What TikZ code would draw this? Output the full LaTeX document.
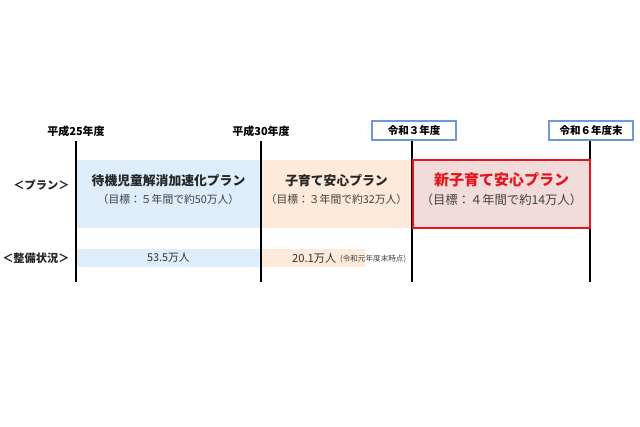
\documentclass[tikz,border=0pt]{standalone}
\usepackage{fontspec}
\setmainfont{Noto Sans CJK JP}
\begin{document}
\begin{tikzpicture}[x=1pt,y=-1pt,
  yearlbl/.style={font=\fontsize{11}{13}\selectfont\bfseries, text=black, inner sep=1pt},
  yearbox/.style={draw=boxblue, line width=1.1pt, fill=white, minimum width=84pt, minimum height=19pt, inner sep=0pt, font=\fontsize{10.5}{12}\selectfont\bfseries},
  tick/.style={line width=1.3pt, black},
  title/.style={font=\fontsize{12.8}{14}\selectfont\bfseries, text=black!85},
  sub/.style={font=\fontsize{10.8}{12}\selectfont, text=black!75},
  rowlbl/.style={font=\fontsize{11.2}{13}\selectfont\bfseries, anchor=east, text=black!85},
  val/.style={font=\fontsize{10.8}{12}\selectfont, text=black!80}
]
\definecolor{bluefill}{HTML}{DDEEFA}
\definecolor{orfill}{HTML}{FDEADA}
\definecolor{redfill}{HTML}{F2DCDB}
\definecolor{redline}{HTML}{E8141B}
\definecolor{boxblue}{HTML}{6A9BD8}
\useasboundingbox (0,0) rectangle (640,426);
% fills
\fill[bluefill] (76,160) rectangle (261,228);
\fill[orfill] (261,160) rectangle (412,228);
\fill[bluefill] (76,249) rectangle (261,267);
\fill[orfill] (261,249) rectangle (365,267);
% year labels
\node[yearlbl] (y25) at (76,131) {平成25年度};
\node[yearlbl] (y30) at (261,131) {平成30年度};
\node[yearbox] (r3) at (414,130.5) {令和３年度};
\node[yearbox] (r6) at (591,130.5) {令和６年度末};
% vertical lines
\coordinate (e1) at (76,282);
\coordinate (e2) at (261,282);
\coordinate (e3) at (412,282);
\coordinate (e4) at (590,282);
\draw[tick] (76,141) -- (e1);
\draw[tick] (261,141) -- (e2);
\draw[tick] (r3.south -| 412,0) -- (e3);
\draw[tick] (r6.south -| 590,0) -- (e4);
% red box
\draw[redline, line width=2pt, fill=redfill] (413,160) rectangle (590,228);
% texts
\node[rowlbl] (lp) at (73,185) {＜プラン＞};
\node[rowlbl] (ls) at (73,258) {＜整備状況＞};
\node[title] (t1) at (168.5,181) {待機児童解消加速化プラン};
\node[sub] (s1) at (168.5,199) {（目標：５年間で約50万人）};
\node[title] (t2) at (336.5,181) {子育て安心プラン};
\node[sub] (s2) at (336.5,199) {（目標：３年間で約32万人）};
\node[title, text=redline, font=\fontsize{15}{17}\selectfont\bfseries] (t3) at (501.5,180) {新子育て安心プラン};
\node[sub, font=\fontsize{12.3}{14}\selectfont] (s3) at (501.5,200) {（目標：４年間で約14万人）};
\node[val] (v1) at (168.5,258) {53.5万人};
\node[val, anchor=west, inner sep=0pt, font=\fontsize{11.2}{13}\selectfont] (v2) at (292,258) {20.1万人};
\node[font=\fontsize{7.6}{9}\selectfont, text=black!75, anchor=west, inner sep=0pt] (v2n) at (340,259) {(令和元年度末時点)};
\end{tikzpicture}
\end{document}
